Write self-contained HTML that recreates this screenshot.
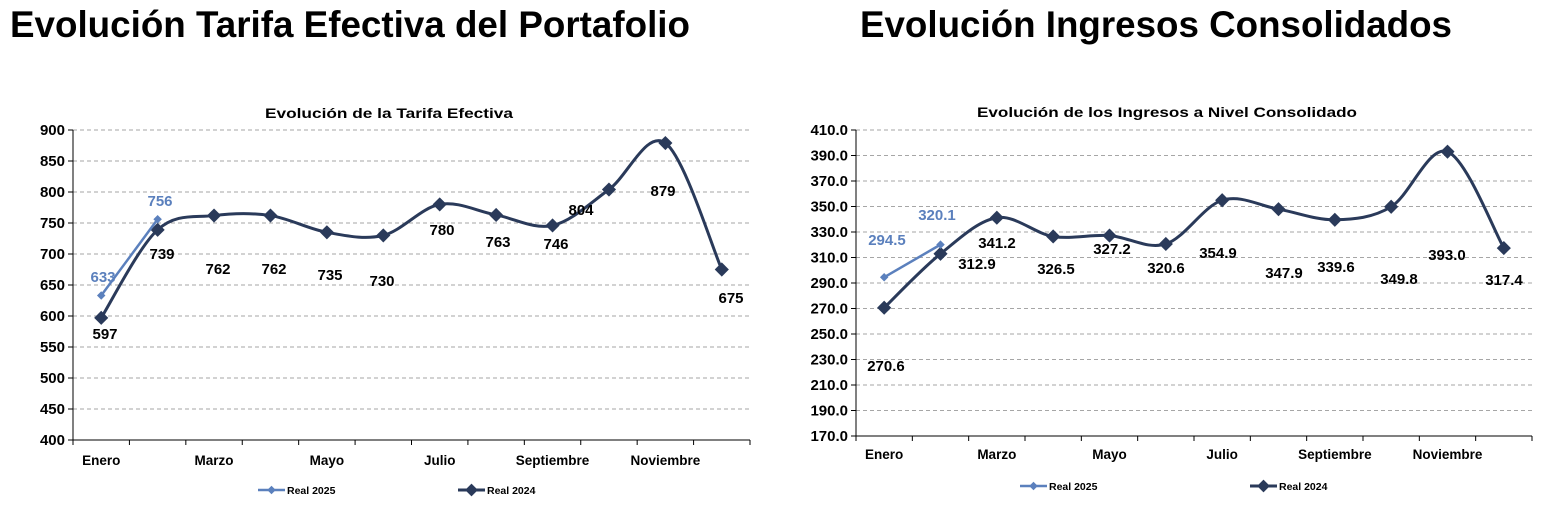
<!DOCTYPE html>
<html><head><meta charset="utf-8"><style>
body{margin:0;background:#fff;width:1544px;height:510px;overflow:hidden;font-family:"Liberation Sans",sans-serif}
svg{position:absolute;left:0;top:0}
</style></head><body>
<svg id="s" width="1544" height="510" xmlns="http://www.w3.org/2000/svg" font-family="Liberation Sans, sans-serif" font-weight="bold">
<text x="10" y="37" font-size="37" fill="#000" textLength="680" lengthAdjust="spacingAndGlyphs">Evolución Tarifa Efectiva del Portafolio</text>
<text x="860" y="37" font-size="37" fill="#000" textLength="592" lengthAdjust="spacingAndGlyphs">Evolución Ingresos Consolidados</text>
<text x="389" y="118" font-size="14" text-anchor="middle" textLength="248" lengthAdjust="spacingAndGlyphs">Evolución de la Tarifa Efectiva</text>
<text x="1167" y="117" font-size="14" text-anchor="middle" textLength="380" lengthAdjust="spacingAndGlyphs">Evolución de los Ingresos a Nivel Consolidado</text>
<g id="g"></g>
</svg>
<script>
const NS="http://www.w3.org/2000/svg",g=document.getElementById('g');
function el(t,a,txt){const e=document.createElementNS(NS,t);for(const k in a)e.setAttribute(k,a[k]);if(txt!==undefined)e.textContent=txt;g.appendChild(e);return e;}
function spline(p){let d=`M${p[0][0]},${p[0][1]}`;for(let i=0;i<p.length-1;i++){const p0=p[i-1]||p[i],p1=p[i],p2=p[i+1],p3=p[i+2]||p2;const t=0.5/3*2;d+=` C${p1[0]+(p2[0]-p0[0])*t/2},${p1[1]+(p2[1]-p0[1])*t/2} ${p2[0]-(p3[0]-p1[0])*t/2},${p2[1]-(p3[1]-p1[1])*t/2} ${p2[0]},${p2[1]}`;}return d;}
function chart(o){
 const {x0,x1,y0,y1,vmax,vmin,step,dec,d24,d25,l24,l25,catY,legY,leg1,leg2}=o;
 const yv=v=>y0+(vmax-v)*(y1-y0)/(vmax-vmin);const w=(x1-x0)/12;const xi=i=>x0+w*(i+0.5);
 for(let v=vmin;v<=vmax+1e-6;v+=step){const y=yv(v);if(v>vmin)el('line',{x1:x0,x2:x1,y1:y,y2:y,stroke:'#a6a6a6','stroke-dasharray':'4,3'});
  el('line',{x1:x0-5,x2:x0,y1:y,y2:y,stroke:'#000'});el('text',{x:x0-8,y:y+5,'font-size':15,'text-anchor':'end'},v.toFixed(dec));}
 el('line',{x1:x0,x2:x0,y1:y0,y2:y1,stroke:'#000'});el('line',{x1:x0,x2:x1,y1:y1,y2:y1,stroke:'#000'});
 for(let i=0;i<=12;i++)el('line',{x1:x0+w*i,x2:x0+w*i,y1:y1,y2:y1+5,stroke:'#000'});
 ['Enero','Marzo','Mayo','Julio','Septiembre','Noviembre'].forEach((c,k)=>el('text',{x:xi(2*k),y:catY,'font-size':13.5,'text-anchor':'middle'},c));
 const p=d24.map((v,i)=>[xi(i),yv(v)]);
 el('path',{d:spline(p),fill:'none',stroke:'#2a3a5a','stroke-width':3});
 p.forEach(q=>el('rect',{x:q[0]-5,y:q[1]-5,width:10,height:10,fill:'#2a3a5a',transform:`rotate(45 ${q[0]} ${q[1]})`}));
 const b=d25.map((v,i)=>[xi(i),yv(v)]);
 el('polyline',{points:b.map(q=>q.join(',')).join(' '),fill:'none',stroke:'#5b80bd','stroke-width':2.5});
 b.forEach(q=>el('rect',{x:q[0]-3,y:q[1]-3,width:6,height:6,fill:'#5b80bd',transform:`rotate(45 ${q[0]} ${q[1]})`}));
 l24.forEach(l=>el('text',{x:l[0],y:l[1],'font-size':15,'text-anchor':'middle',fill:'#000'},l[2]));
 l25.forEach(l=>el('text',{x:l[0],y:l[1],'font-size':15,'text-anchor':'middle',fill:'#5b80bd'},l[2]));
 el('line',{x1:leg1,x2:leg1+27,y1:legY,y2:legY,stroke:'#5b80bd','stroke-width':2.5});
 el('rect',{x:leg1+10.5,y:legY-3,width:6,height:6,fill:'#5b80bd',transform:`rotate(45 ${leg1+13.5} ${legY})`});
 el('text',{x:leg1+29,y:legY+4,'font-size':10.5},'Real 2025');
 el('line',{x1:leg2,x2:leg2+27,y1:legY,y2:legY,stroke:'#2a3a5a','stroke-width':3});
 el('rect',{x:leg2+9,y:legY-4.5,width:9,height:9,fill:'#2a3a5a',transform:`rotate(45 ${leg2+13.5} ${legY})`});
 el('text',{x:leg2+29,y:legY+4,'font-size':10.5},'Real 2024');
}
chart({x0:73,x1:750,y0:130,y1:440,vmax:900,vmin:400,step:50,dec:0,
 d24:[597,739,762,762,735,730,780,763,746,804,879,675],d25:[633,756],
 l24:[[105,339,'597'],[162,259,'739'],[218,274,'762'],[274,274,'762'],[330,280,'735'],[382,286,'730'],[442,235,'780'],[498,247,'763'],[556,249,'746'],[581,215,'804'],[663,196,'879'],[731,303,'675']],
 l25:[[103,282,'633'],[160,206,'756']],catY:465,legY:490,leg1:258,leg2:458});
chart({x0:856,x1:1532,y0:130,y1:436,vmax:410,vmin:170,step:20,dec:1,
 d24:[270.6,312.9,341.2,326.5,327.2,320.6,354.9,347.9,339.6,349.8,393.0,317.4],d25:[294.5,320.1],
 l24:[[886,371,'270.6'],[977,269,'312.9'],[997,248,'341.2'],[1056,274,'326.5'],[1112,254,'327.2'],[1166,273,'320.6'],[1218,258,'354.9'],[1284,278,'347.9'],[1336,272,'339.6'],[1399,284,'349.8'],[1447,260,'393.0'],[1504,285,'317.4']],
 l25:[[887,245,'294.5'],[937,220,'320.1']],catY:459,legY:486,leg1:1020,leg2:1250});
</script>
</body></html>
